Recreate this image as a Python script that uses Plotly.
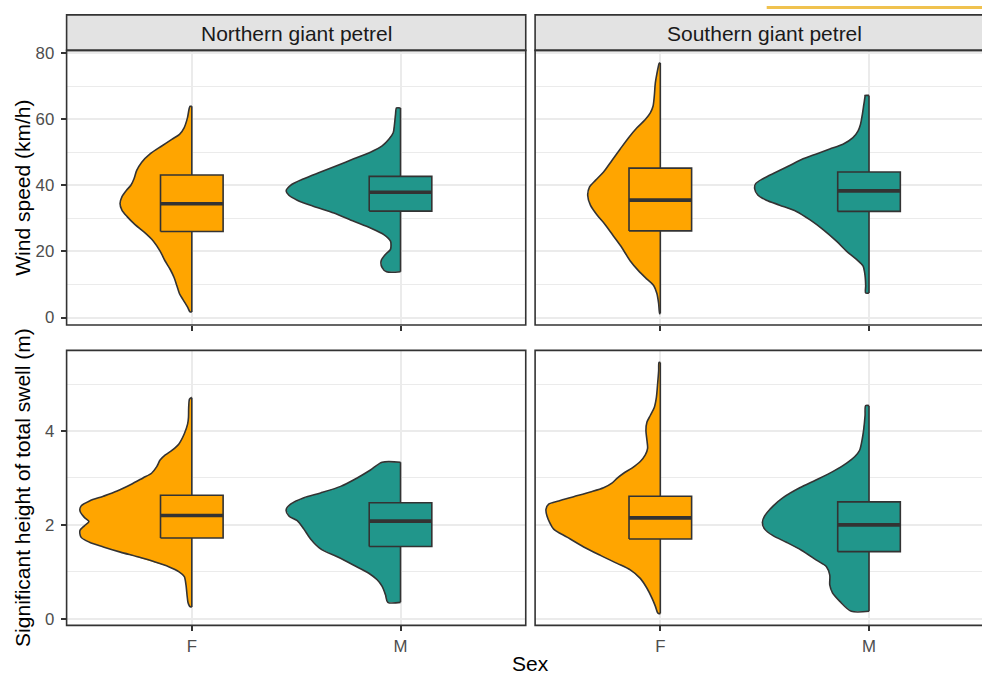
import plotly.graph_objects as go

FONT = "Liberation Sans, Arial, Helvetica, sans-serif"
W, H = 982, 680

species = ["Northern giant petrel", "Southern giant petrel"]
sexes = ["F", "M"]
y_titles = ["Wind speed (km/h)", "Significant height of total swell (m)"]
x_title = "Sex"
fill_colors = ["#FFA500", "#21968B"]

# Half-violin profiles: y values (top to bottom) and half-widths in category units
wind_ngp_f_y = [63.9, 63.4, 60.4, 57.4, 55.4, 53.9, 51.9, 49.5, 47.0, 44.5, 42.0, 40.0, 38.5, 36.5,
                34.5, 32.5, 30.6, 28.1, 25.6, 23.1, 20.1, 17.1, 14.6, 12.1, 9.7, 7.2, 5.2, 3.2, 1.9, 1.7]
wind_ngp_f_w = [0.008, 0.012, 0.021, 0.037, 0.059, 0.096, 0.144, 0.200, 0.240, 0.264, 0.277, 0.292, 0.313, 0.335,
                0.344, 0.335, 0.311, 0.272, 0.224, 0.184, 0.152, 0.128, 0.104, 0.085, 0.072, 0.059, 0.040, 0.021, 0.011, 0.008]

wind_ngp_m_y = [63.4, 61.4, 58.4, 55.9, 53.9, 51.9, 50.0, 48.0, 46.0, 44.0, 42.0, 40.0, 38.3, 37.0,
                35.5, 33.6, 31.6, 29.1, 27.1, 25.1, 23.1, 20.6, 19.1, 17.1, 15.1, 13.85]
wind_ngp_m_w = [0.019, 0.024, 0.029, 0.035, 0.056, 0.088, 0.144, 0.224, 0.303, 0.383, 0.463, 0.527, 0.548, 0.535,
                0.495, 0.415, 0.319, 0.224, 0.144, 0.080, 0.048, 0.048, 0.072, 0.093, 0.088, 0.067]

wind_sgp_f_y = [77.0, 76.8, 73.9, 70.9, 66.9, 63.9, 61.9, 59.9, 57.4, 54.4, 51.0, 47.5, 44.0, 41.5, 39.5,
                37.0, 34.0, 31.0, 28.1, 24.6, 21.1, 17.1, 14.1, 11.6, 9.7, 7.2, 4.2, 1.2]
wind_sgp_f_w = [0.004, 0.006, 0.016, 0.024, 0.029, 0.035, 0.048, 0.072, 0.112, 0.152, 0.192, 0.232, 0.272, 0.311, 0.339,
                0.348, 0.335, 0.303, 0.264, 0.224, 0.184, 0.144, 0.104, 0.064, 0.032, 0.016, 0.008, 0.003]

wind_sgp_m_y = [67.2, 66.9, 64.4, 61.4, 58.4, 56.4, 54.4, 52.4, 51.0, 49.5, 48.0, 46.0, 44.0, 42.0, 40.5,
                39.0, 37.0, 35.5, 34.0, 32.1, 29.6, 26.6, 23.1, 20.1, 17.6, 15.6, 12.7, 9.7, 7.4]
wind_sgp_m_w = [0.019, 0.019, 0.025, 0.032, 0.041, 0.053, 0.077, 0.125, 0.188, 0.252, 0.316, 0.380, 0.444, 0.508, 0.543,
                0.548, 0.532, 0.492, 0.428, 0.348, 0.284, 0.220, 0.156, 0.108, 0.060, 0.029, 0.019, 0.016, 0.016]

swell_ngp_f_y = [4.71, 4.68, 4.50, 4.29, 4.15, 3.94, 3.73, 3.59, 3.49, 3.38, 3.24, 3.10, 3.00, 2.86, 2.72, 2.61,
                 2.51, 2.40, 2.30, 2.16, 2.07, 1.98, 1.88, 1.74, 1.63, 1.53, 1.42, 1.32, 1.21, 1.11, 1.00,
                 0.90, 0.72, 0.51, 0.34, 0.27, 0.25]
swell_ngp_f_w = [0.003, 0.011, 0.015, 0.016, 0.020, 0.036, 0.061, 0.094, 0.127, 0.152, 0.168, 0.193, 0.234, 0.292, 0.358, 0.424,
                 0.490, 0.531, 0.536, 0.515, 0.493, 0.515, 0.536, 0.531, 0.490, 0.424, 0.342, 0.259, 0.176, 0.111, 0.061,
                 0.036, 0.028, 0.023, 0.018, 0.011, 0.003]

swell_ngp_m_y = [3.335, 3.17, 3.00, 2.82, 2.68, 2.58, 2.44, 2.32, 2.19, 2.09, 1.91, 1.70, 1.49, 1.32,
                 1.14, 0.97, 0.83, 0.69, 0.51, 0.35]
swell_ngp_m_w = [0.088, 0.144, 0.208, 0.287, 0.383, 0.463, 0.527, 0.548, 0.535, 0.495, 0.463, 0.431, 0.383, 0.303,
                 0.224, 0.152, 0.112, 0.088, 0.072, 0.061]

swell_sgp_f_y = [5.46, 5.28, 5.00, 4.71, 4.50, 4.33, 4.19, 4.01, 3.80, 3.63, 3.49, 3.35, 3.21, 3.10, 3.00, 2.89,
                 2.79, 2.70, 2.60, 2.51, 2.44, 2.33, 2.19, 2.05, 1.91, 1.74, 1.53, 1.35, 1.18, 1.04, 0.86,
                 0.65, 0.44, 0.27, 0.13, 0.11]
swell_sgp_f_w = [0.006, 0.008, 0.013, 0.019, 0.029, 0.048, 0.064, 0.069, 0.064, 0.061, 0.072, 0.096, 0.136, 0.176, 0.205, 0.232,
                 0.272, 0.335, 0.415, 0.487, 0.535, 0.548, 0.543, 0.530, 0.511, 0.447, 0.367, 0.287, 0.207, 0.144, 0.096,
                 0.064, 0.040, 0.024, 0.013, 0.006]

swell_sgp_m_y = [4.54, 4.33, 4.05, 3.84, 3.59, 3.45, 3.31, 3.14, 2.96, 2.79, 2.58, 2.40, 2.19, 2.05, 1.91,
                 1.77, 1.63, 1.46, 1.25, 1.11, 0.93, 0.72, 0.55, 0.37, 0.16]
swell_sgp_m_w = [0.016, 0.019, 0.025, 0.032, 0.045, 0.069, 0.109, 0.172, 0.252, 0.332, 0.412, 0.460, 0.500, 0.511, 0.500,
                 0.460, 0.396, 0.324, 0.252, 0.204, 0.188, 0.188, 0.175, 0.140, 0.085]

# Box summaries: [q1, median, q3]
wind_ngp_f_box = [26.0, 34.4, 43.1]
wind_ngp_m_box = [32.2, 37.9, 42.7]
wind_sgp_f_box = [26.2, 35.5, 45.2]
wind_sgp_m_box = [32.1, 38.3, 44.0]
swell_ngp_f_box = [1.72, 2.20, 2.63]
swell_ngp_m_box = [1.54, 2.08, 2.47]
swell_sgp_f_box = [1.70, 2.15, 2.61]
swell_sgp_m_box = [1.43, 2.00, 2.49]

# panel (row, col) -> per-sex (y, w, box)
panels = {
    (0, 0): [(wind_ngp_f_y, wind_ngp_f_w, wind_ngp_f_box), (wind_ngp_m_y, wind_ngp_m_w, wind_ngp_m_box)],
    (0, 1): [(wind_sgp_f_y, wind_sgp_f_w, wind_sgp_f_box), (wind_sgp_m_y, wind_sgp_m_w, wind_sgp_m_box)],
    (1, 0): [(swell_ngp_f_y, swell_ngp_f_w, swell_ngp_f_box), (swell_ngp_m_y, swell_ngp_m_w, swell_ngp_m_box)],
    (1, 1): [(swell_sgp_f_y, swell_sgp_f_w, swell_sgp_f_box), (swell_sgp_m_y, swell_sgp_m_w, swell_sgp_m_box)],
}

# panel geometry in pixels
CAT_PX = 208.7
panel_left = [66.6, 535.1]
panel_right = [p + 2.2 * CAT_PX for p in panel_left]
panel_top = [45.0, 349.0]
panel_bottom = [323.3, 627.7]
strip_top = 9.0
y_ranges = [[-2.27, 80.81], [-0.141, 5.717]]
y_dticks = [20, 2]

OUTLINE = "#333333"
GRID = "#EBEBEB"
BOX_HALF = 0.15
LW = 1.6

fig = go.Figure()
layout_axes = {}

for (r, c), groups in panels.items():
    idx = r * 2 + c + 1
    s = "" if idx == 1 else str(idx)
    xa, ya = "x" + s, "y" + s
    vis_right = min(panel_right[c], W)
    x_hi = 0.4 + (vis_right - panel_left[c]) / CAT_PX

    layout_axes["xaxis" + s] = dict(
        domain=[panel_left[c] / W, vis_right / W], range=[0.4, x_hi], anchor=ya,
        tickmode="array", tickvals=[1, 2], ticktext=sexes,
        showgrid=True, gridcolor=GRID, gridwidth=2.0, zeroline=False, showline=False,
        ticks="outside", ticklen=5, tickwidth=1.6, tickcolor=OUTLINE,
        showticklabels=(r == 1), tickfont=dict(family=FONT, size=16.8, color="#4D4D4D"),
        fixedrange=True,
    )
    layout_axes["yaxis" + s] = dict(
        domain=[1 - panel_bottom[r] / H, 1 - panel_top[r] / H], range=y_ranges[r], anchor=xa,
        tickmode="linear", tick0=0, dtick=y_dticks[r],
        minor=dict(tickmode="linear", tick0=0, dtick=y_dticks[r] / 2, showgrid=True,
                   gridcolor=GRID, gridwidth=1.1, ticks=""),
        showgrid=True, gridcolor=GRID, gridwidth=2.0, zeroline=False, showline=False,
        ticks="outside" if c == 0 else "", ticklen=5, tickwidth=1.6, tickcolor=OUTLINE,
        showticklabels=(c == 0), tickfont=dict(family=FONT, size=16.8, color="#4D4D4D"),
        ticklabelstandoff=3, fixedrange=True,
    )

    for k, (ys, ws, box) in enumerate(groups):
        cx = k + 1
        col = fill_colors[k]
        edge_x = [cx - w for w in ws]
        # violin body
        fig.add_trace(go.Scatter(
            x=[cx] + edge_x + [cx], y=[ys[0]] + ys + [ys[-1]], xaxis=xa, yaxis=ya,
            mode="lines", fill="toself", fillcolor=col, line=dict(width=0, color=col),
            hoverinfo="skip", showlegend=False))
        # curved outline
        fig.add_trace(go.Scatter(
            x=[cx] + edge_x + [cx], y=[ys[0]] + ys + [ys[-1]], xaxis=xa, yaxis=ya,
            mode="lines", line=dict(width=LW, color=OUTLINE, shape="spline", smoothing=0.8),
            hoverinfo="skip", showlegend=False))
        # straight inner edge
        fig.add_trace(go.Scatter(
            x=[cx, cx], y=[ys[0], ys[-1]], xaxis=xa, yaxis=ya,
            mode="lines", line=dict(width=LW, color=OUTLINE),
            hoverinfo="skip", showlegend=False))
        q1, med, q3 = box
        fig.add_trace(go.Scatter(
            x=[cx - BOX_HALF, cx + BOX_HALF, cx + BOX_HALF, cx - BOX_HALF, cx - BOX_HALF],
            y=[q1, q1, q3, q3, q1], xaxis=xa, yaxis=ya,
            mode="lines", fill="toself", fillcolor=col, line=dict(width=LW, color=OUTLINE),
            hoverinfo="skip", showlegend=False))
        fig.add_trace(go.Scatter(
            x=[cx - BOX_HALF, cx + BOX_HALF], y=[med, med], xaxis=xa, yaxis=ya,
            mode="lines", line=dict(width=3.6, color=OUTLINE),
            hoverinfo="skip", showlegend=False))

shapes = []
annotations = []
for c in range(2):
    x0, x1 = panel_left[c] / W, panel_right[c] / W
    # strip
    shapes.append(dict(type="rect", xref="paper", yref="paper", x0=x0, x1=x1,
                       y0=1 - panel_top[0] / H, y1=1 - strip_top / H,
                       fillcolor="#E3E3E3", line=dict(color=OUTLINE, width=1.6), layer="above"))
    annotations.append(dict(text=species[c], xref="paper", yref="paper",
                            x=(panel_left[c] + panel_right[c]) / 2 / W, y=1 - 27.5 / H,
                            xanchor="center", yanchor="middle", showarrow=False,
                            font=dict(family=FONT, size=21, color="#1A1A1A")))
    for r in range(2):
        shapes.append(dict(type="rect", xref="paper", yref="paper", x0=x0, x1=x1,
                           y0=1 - panel_bottom[r] / H, y1=1 - panel_top[r] / H,
                           line=dict(color=OUTLINE, width=1.6), fillcolor="rgba(0,0,0,0)", layer="above"))

for r in range(2):
    annotations.append(dict(text=y_titles[r], xref="paper", yref="paper", x=23 / W,
                            y=1 - (panel_top[r] + panel_bottom[r]) / 2 / H, textangle=-90,
                            xanchor="center", yanchor="middle", showarrow=False,
                            font=dict(family=FONT, size=21, color="#000000")))

annotations.append(dict(text=x_title, xref="paper", yref="paper",
                        x=(panel_left[0] + panel_right[1]) / 2 / W, y=1 - 666 / H,
                        xanchor="center", yanchor="middle", showarrow=False,
                        font=dict(family=FONT, size=21, color="#000000")))

# thin accent bar along the top edge
shapes.append(dict(type="rect", xref="paper", yref="paper", x0=766.7 / W, x1=1.0,
                   y0=1 - 3.0 / H, y1=1.0, fillcolor="#F0C24F", line=dict(width=0), layer="above"))

fig.update_layout(
    width=W, height=H, autosize=False,
    margin=dict(l=0, r=0, t=0, b=0, pad=0),
    paper_bgcolor="white", plot_bgcolor="white",
    font=dict(family=FONT),
    shapes=shapes, annotations=annotations, showlegend=False,
    **layout_axes,
)

fig.write_html("out.html")
